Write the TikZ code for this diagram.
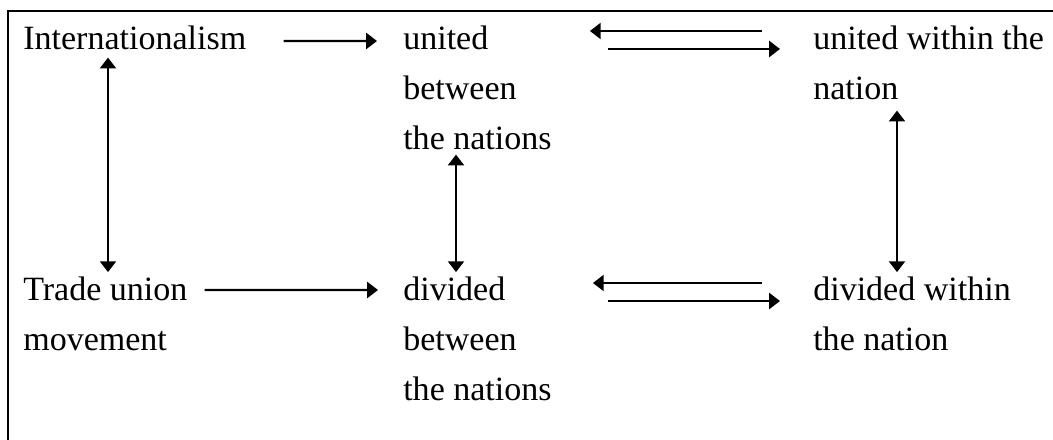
\documentclass[tikz,border=0pt]{standalone}
\usepackage{fontspec}
\setmainfont{Liberation Serif}
\usetikzlibrary{arrows.meta}

\begin{document}
\begin{tikzpicture}[>={Triangle[length=0.27cm, width=0.4cm]},
    every node/.style={inner sep=0pt, align=left, anchor=base west,
        font=\fontsize{24.2pt}{35.57pt}\selectfont},
    link/.style={line width=1.5pt}]
    \useasboundingbox (0,0) rectangle (26.325,11);
    \draw[line width=1.4pt] (0.2,0) -- (0.2,10.725) -- (26.325,10.725);

    % base of a multi-line node is its last line
    \node (intl) at (0.575, 9.75) {Internationalism};
    \node (ubetw) at (10.075, 7.25) {united\\between\\the nations};
    \node (uwith) at (20.325, 8.5) {united within the\\nation};
    \node (trade) at (0.575, 2.225) {Trade union\\movement};
    \node (dbetw) at (10.075, 0.975) {divided\\between\\the nations};
    \node (dwith) at (20.325, 2.225) {divided within\\the nation};

    \draw[->, link] ([shift={(0.925,0.225)}]intl.base east) -- ([shift={(-0.65,2.725)}]ubetw.base west);
    \draw[->, link] ([shift={(-1.275,1.725)}]uwith.base west) -- ([shift={(0.95,2.975)}]ubetw.base east);
    \draw[->, link] ([shift={(1.4,2.525)}]ubetw.base east) -- ([shift={(-0.825,1.275)}]uwith.base west);

    \draw[->, link] ([shift={(0.425,1.525)}]trade.base east) -- ([shift={(-0.625,2.775)}]dbetw.base west);
    \draw[->, link] ([shift={(-1.275,1.7)}]dwith.base west) -- ([shift={(1.025,2.95)}]dbetw.base east);
    \draw[->, link] ([shift={(1.4,2.5)}]dbetw.base east) -- ([shift={(-0.825,1.25)}]dwith.base west);

    \draw[<->, link] ([shift={(2.125,-0.175)}]intl.south west) -- ([shift={(2.125,0.125)}]trade.north west);
    \draw[<->, link] ([shift={(1.325,-0.1)}]ubetw.south west) -- ([shift={(1.325,0.125)}]dbetw.north west);
    \draw[<->, link] ([shift={(2.1,-0.25)}]uwith.south west) -- ([shift={(2.1,0.125)}]dwith.north west);
\end{tikzpicture}
\end{document}
